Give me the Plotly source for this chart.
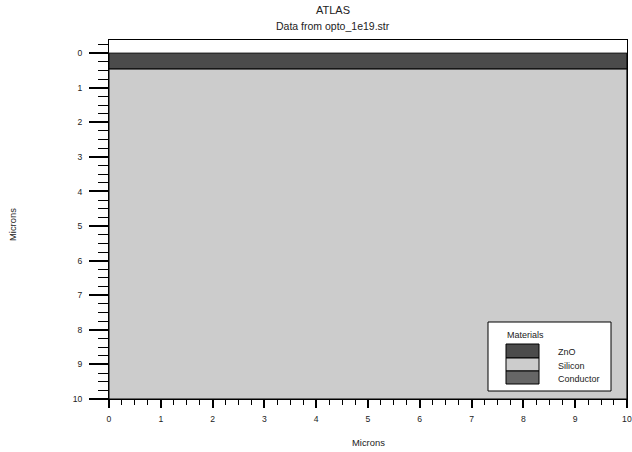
import plotly.graph_objects as go

# ---- data ----
materials = ["ZnO", "Silicon", "Conductor"]
material_colors = ["#4b4b4b", "#cccccc", "#666666"]
layer_names = ["ZnO", "Silicon"]
layer_top = [0.0, 0.46]
layer_bottom = [0.46, 10.0]
layer_colors = ["#4b4b4b", "#cccccc"]
x_min, x_max = 0, 10
y_top, y_bottom = -0.38, 10
x_ticks = [0, 1, 2, 3, 4, 5, 6, 7, 8, 9, 10]
y_ticks = [0, 1, 2, 3, 4, 5, 6, 7, 8, 9, 10]

FONT = "Liberation Sans, Arial, sans-serif"

fig = go.Figure()
# invisible trace to set axes
fig.add_trace(go.Scatter(x=[x_min, x_max], y=[y_top, y_bottom], mode="markers",
                         marker=dict(opacity=0), showlegend=False, hoverinfo="skip"))

shapes = []
for name, t, b, c in zip(layer_names, layer_top, layer_bottom, layer_colors):
    shapes.append(dict(type="rect", xref="x", yref="y", x0=x_min, x1=x_max, y0=t, y1=b,
                       fillcolor=c, line=dict(color="black", width=1), layer="below"))

# legend box (paper coords)
PL, PR, PT, PB = 109, 627, 40, 399
def px(x): return (x - PL) / (PR - PL)
def py(y): return (PB - y) / (PB - PT)

shapes.append(dict(type="rect", xref="paper", yref="paper", x0=px(488), x1=px(611),
                   y0=py(391), y1=py(322), fillcolor="white", line=dict(color="black", width=1)))
sw_y = [344, 358, 371, 384]
annotations = []
for i, (m, c) in enumerate(zip(materials, material_colors)):
    shapes.append(dict(type="rect", xref="paper", yref="paper", x0=px(506), x1=px(539),
                       y0=py(sw_y[i + 1]), y1=py(sw_y[i]), fillcolor=c,
                       line=dict(color="black", width=1)))
    annotations.append(dict(text=m, xref="paper", yref="paper", x=px(556),
                            y=py((sw_y[i] + sw_y[i + 1]) / 2 + 1), xanchor="left", yanchor="middle",
                            showarrow=False, font=dict(size=9, color="#222", family=FONT)))
annotations.append(dict(text="Materials", xref="paper", yref="paper", x=px(505), y=py(335),
                        xanchor="left", yanchor="middle", showarrow=False,
                        font=dict(size=9, color="#222", family=FONT)))
annotations.append(dict(text="ATLAS", xref="paper", yref="paper", x=px(333), y=py(10),
                        xanchor="center", yanchor="middle", showarrow=False,
                        font=dict(size=11, color="#222", family=FONT)))
annotations.append(dict(text="Data from opto_1e19.str", xref="paper", yref="paper", x=px(333), y=py(26),
                        xanchor="center", yanchor="middle", showarrow=False,
                        font=dict(size=10.5, color="#222", family=FONT)))
annotations.append(dict(text="Microns", xref="paper", yref="paper", x=px(368), y=py(442),
                        xanchor="center", yanchor="middle", showarrow=False,
                        font=dict(size=9.4, color="#222", family=FONT)))
annotations.append(dict(text="Microns", xref="paper", yref="paper", x=px(12), y=py(225),
                        xanchor="center", yanchor="middle", showarrow=False, textangle=-90,
                        font=dict(size=9.4, color="#222", family=FONT)))

fig.update_layout(
    width=632, height=452,
    margin=dict(l=PL, r=632 - PR, t=PT, b=452 - PB, autoexpand=False),
    paper_bgcolor="white", plot_bgcolor="white",
    showlegend=False,
    shapes=shapes, annotations=annotations,
    font=dict(family=FONT, size=9, color="#222"),
)
fig.update_xaxes(range=[x_min, x_max + 0.002], tickvals=x_ticks, ticktext=[str(v) for v in x_ticks],
                 ticks="outside", ticklen=8, tickwidth=2, tickcolor="black",
                 showline=True, linecolor="black", linewidth=1, mirror=True,
                 showgrid=False, zeroline=False, ticklabelstandoff=4, automargin=False,
                 minor=dict(dtick=0.25, tick0=0, ticks="outside", ticklen=5, tickwidth=1,
                            tickcolor="black", showgrid=False),
                 tickfont=dict(size=8.6, family=FONT, color="#222"))
fig.update_yaxes(range=[y_bottom, y_top], tickvals=y_ticks, ticktext=[str(v) for v in y_ticks],
                 ticks="outside", ticklen=19, tickwidth=2, tickcolor="black",
                 showline=True, linecolor="black", linewidth=1, mirror=True,
                 showgrid=False, zeroline=False, ticklabelstandoff=5, automargin=False,
                 minor=dict(dtick=0.25, tick0=0, ticks="outside", ticklen=10, tickwidth=1,
                            tickcolor="black", showgrid=False),
                 tickfont=dict(size=8.6, family=FONT, color="#222"))

fig.write_html("out.html", config={"displayModeBar": False},
               post_script="document.body.style.margin='0px';document.body.style.overflow='hidden';")
